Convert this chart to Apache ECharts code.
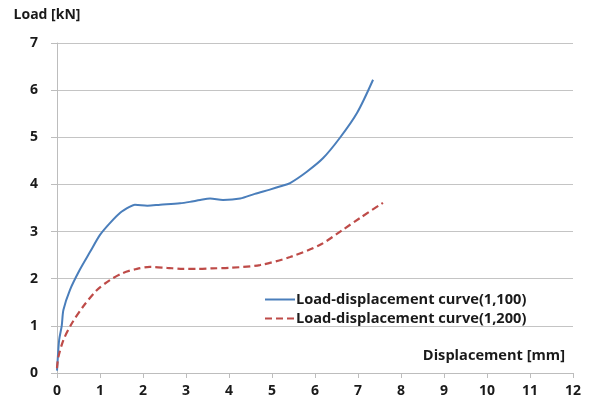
<!DOCTYPE html>
<html>
<head>
<meta charset="utf-8">
<script src="https://cdn.jsdelivr.net/npm/echarts@6/dist/echarts.min.js"></script>
<style>
  html, body { margin: 0; padding: 0; background: #fff; }
  #chart { width: 590px; height: 405px; }
</style>
</head>
<body>
<div id="chart"></div>
<script>
// displacement [mm] / load [kN]
var disp100 = [0, 0.01, 0.05, 0.11, 0.15, 0.3, 0.53, 0.77, 1.0, 1.23, 1.47, 1.7, 1.81, 2.1, 2.4, 2.86, 3.09, 3.33, 3.56, 3.86, 4.26, 4.6, 4.95, 5.2, 5.42, 5.81, 6.19, 6.58, 6.98, 7.35];
var load100 = [0.05, 0.2, 0.7, 1.0, 1.34, 1.76, 2.19, 2.57, 2.93, 3.18, 3.4, 3.53, 3.57, 3.55, 3.57, 3.6, 3.63, 3.67, 3.7, 3.67, 3.7, 3.8, 3.89, 3.96, 4.03, 4.27, 4.56, 4.99, 5.52, 6.22];

var disp200 = [0, 0.03, 0.15, 0.35, 0.6, 0.93, 1.23, 1.53, 1.86, 2.16, 2.56, 2.93, 3.26, 3.6, 4.02, 4.72, 5.42, 6.12, 6.65, 7.05, 7.58];
var load200 = [0.1, 0.33, 0.7, 1.06, 1.4, 1.76, 1.97, 2.12, 2.21, 2.25, 2.23, 2.21, 2.21, 2.22, 2.23, 2.29, 2.46, 2.72, 3.04, 3.29, 3.61];

var seriesNames = ['Load-displacement curve(1,100)', 'Load-displacement curve(1,200)'];

function pairs(xs, ys) {
    return xs.map(function (x, i) { return [x, ys[i]]; });
}

var chart = echarts.init(document.getElementById('chart'));
var font = '"Open Sans", Lato, sans-serif';
var ink = '#1a1a1a';

var option = {
    animation: false,
    backgroundColor: '#fff',
    textStyle: { fontFamily: font },
    grid: { left: 57, right: 17, top: 43, bottom: 32 },
    legend: {
        orient: 'vertical',
        left: 259,
        top: 287,
        itemWidth: 30,
        itemHeight: 10,
        itemGap: 4,
        data: seriesNames,
        itemStyle: { opacity: 0 },
        textStyle: { fontFamily: font, fontWeight: 'bold', fontSize: 14.6, color: ink, padding: [0, 0, 0, -4] }
    },
    xAxis: {
        type: 'value',
        min: 0, max: 12, interval: 1,
        name: 'Displacement [mm]',
        nameLocation: 'end',
        nameGap: -8,
        nameTextStyle: { fontFamily: font, fontWeight: 'bold', fontSize: 14.6, color: ink, align: 'right', verticalAlign: 'bottom', padding: [0, 0, 10, 0] },
        axisLine: { lineStyle: { color: '#bdbdbd', width: 1 } },
        axisTick: { show: true, length: 5, lineStyle: { color: '#bdbdbd' } },
        axisLabel: { fontFamily: font, fontWeight: 'bold', fontSize: 14, color: ink, margin: 11 },
        splitLine: { show: false }
    },
    yAxis: {
        type: 'value',
        min: 0, max: 7, interval: 1,
        name: 'Load [kN]',
        nameLocation: 'end',
        nameGap: 21,
        nameTextStyle: { fontFamily: font, fontWeight: 'bold', fontSize: 14, color: ink, padding: [0, 20, 0, 0] },
        axisLine: { show: true, lineStyle: { color: '#bdbdbd', width: 1 } },
        axisTick: { show: true, length: 6, lineStyle: { color: '#bdbdbd' } },
        axisLabel: { fontFamily: font, fontWeight: 'bold', fontSize: 14, color: ink, margin: 19 },
        splitLine: { show: true, lineStyle: { color: '#c4c4c4', width: 1.2 } }
    },
    series: [
        {
            name: seriesNames[0],
            type: 'line',
            data: pairs(disp100, load100),
            smooth: 0.3,
            symbol: 'none',
            lineStyle: { color: '#4a7ebb', width: 2 },
            itemStyle: { color: '#4a7ebb' }
        },
        {
            name: seriesNames[1],
            type: 'line',
            data: pairs(disp200, load200),
            smooth: 0.3,
            symbol: 'none',
            lineStyle: { color: '#be4b48', width: 2.2, type: [7, 4] },
            itemStyle: { color: '#be4b48' }
        }
    ]
};

chart.setOption(option);
</script>
</body>
</html>
